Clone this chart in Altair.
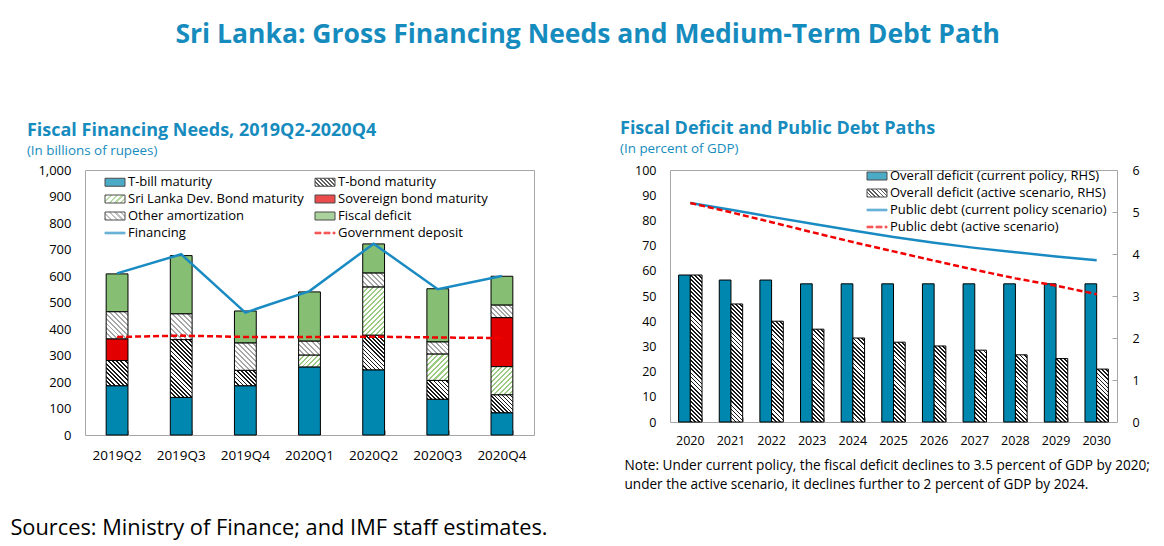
import math
import altair as alt
import pandas as pd

FONT = "Open Sans"
TITLE_BLUE = "#168CBE"
BAR_BLUE = "#0087AF"
GREEN = "#86BF73"
RED = "#E30000"
LINE_BLUE = "#1A8BC2"
DASH_RED = "#F20000"
FRAME = "#A6A6A6"

# ---------------- data: left panel (billions of rupees) ----------------
quarters = ["2019Q2", "2019Q3", "2019Q4", "2020Q1", "2020Q2", "2020Q3", "2020Q4"]
t_bill = [186, 142, 186, 257, 246, 135, 84]
t_bond = [95, 218, 58, 0, 131, 71, 68]
sldb = [0, 0, 0, 45, 182, 100, 106]
sovereign = [82, 0, 0, 0, 0, 0, 185]
other_amort = [102, 97, 103, 52, 52, 45, 47]
fiscal_deficit = [143, 220, 121, 186, 110, 201, 109]
financing = [610, 682, 462, 543, 722, 550, 600]
gov_deposit = [370, 375, 370, 370, 371, 368, 366]

# ---------------- data: right panel (percent of GDP) ----------------
years = [str(y) for y in range(2020, 2031)]
deficit_current = [3.5, 3.38, 3.38, 3.29, 3.29, 3.29, 3.29, 3.29, 3.29, 3.29, 3.29]
deficit_active = [3.5, 2.81, 2.4, 2.21, 2.0, 1.9, 1.81, 1.71, 1.6, 1.51, 1.26]
debt_current = [86.9, 84.2, 81.4, 78.7, 76.0, 73.4, 71.1, 69.1, 67.4, 65.7, 64.2]
debt_active = [86.9, 83.2, 79.3, 75.3, 71.4, 67.7, 64.0, 60.4, 57.0, 54.1, 50.7]

MAIN_TITLE = "Sri Lanka: Gross Financing Needs and Medium-Term Debt Path"
LEFT_TITLE = "Fiscal Financing Needs, 2019Q2-2020Q4"
LEFT_SUB = "(In billions of rupees)"
RIGHT_TITLE = "Fiscal Deficit and Public Debt Paths"
RIGHT_SUB = "(In percent of GDP)"
NOTE = ["Note: Under current policy, the fiscal deficit declines to 3.5 percent of GDP by 2020;",
        "under the active scenario, it declines further to 2 percent of GDP by 2024."]
SOURCES = "Sources: Ministry of Finance; and IMF staff estimates."

bar_series = ["T-bill maturity", "T-bond maturity", "Sri Lanka Dev. Bond maturity",
              "Sovereign bond maturity", "Other amortization", "Fiscal deficit"]
bar_values = [t_bill, t_bond, sldb, sovereign, other_amort, fiscal_deficit]
line_series = ["Financing", "Government deposit"]
right_series = ["Overall deficit (current policy, RHS)", "Overall deficit (active scenario, RHS)",
                "Public debt (current policy scenario)", "Public debt (active scenario)"]

# ---------------- layout sizes ----------------
LW, LH = 449, 265
RW, RH = 447, 252
L_PAD_IN = 0.66
R_PAD_IN = 0.424
L_BAR_W = LW / len(quarters) * (1 - L_PAD_IN)
R_BAR_W = RW / len(years) * (1 - R_PAD_IN) / 2


def hatch(w, h, line, bg, direction, period, frac):
    """Linear gradient with hard stops that imitates 45-degree hatching."""
    w = max(w, 0.5)
    h = max(h, 0.5)
    lam = (w + h) / (w * w + h * h)
    if direction == "back":
        x1, y1, x2, y2 = 0, 1, lam * w, 1 - lam * h
    else:
        x1, y1, x2, y2 = 0, 0, lam * w, lam * h
    n = max(1, round((w + h) / math.sqrt(2) / period))
    stops = []
    for k in range(n):
        a, b, c = k / n, (k + frac) / n, (k + 1) / n
        stops += [(a, line), (b, line), (b, bg), (c, bg)]
    return {"gradient": "linear", "x1": round(x1, 5), "y1": round(y1, 5),
            "x2": round(x2, 5), "y2": round(y2, 5),
            "stops": [{"offset": round(o, 5), "color": col} for o, col in stops]}


def grad_expr(g):
    stops = ",".join("{offset:%s,color:'%s'}" % (s["offset"], s["color"]) for s in g["stops"])
    return "{gradient:'linear',x1:%s,y1:%s,x2:%s,y2:%s,stops:[%s]}" % (
        g["x1"], g["y1"], g["x2"], g["y2"], stops)


PATTERNS = {
    "T-bond maturity": ("#1a1a1a", "#ffffff", "back", 2.9, 0.45),
    "Sri Lanka Dev. Bond maturity": ("#9CCB83", "#ffffff", "fwd", 3.6, 0.4),
    "Other amortization": ("#A8A8A8", "#ffffff", "back", 3.6, 0.4),
}
ACTIVE_PATTERN = ("#1a1a1a", "#ffffff", "back", 2.9, 0.45)
SOLID = {"T-bill maturity": BAR_BLUE, "Sovereign bond maturity": RED, "Fiscal deficit": GREEN}

# legend symbol paths (size 64 -> 4 px per unit; symbol centre sits 6.5 px from entry start)
RECT = "M-1.625,-1H3.375V1H-1.625Z"
LINE = "M-1.625,-0.2H3.375V0.2H-1.625Z"
DASH = ("M-1.625,-0.2H-0.125V0.2H-1.625Z M0.625,-0.2H2.125V0.2H0.625Z "
        "M2.875,-0.2H3.375V0.2H2.875Z")

label_style = dict(labelFont=FONT, labelFontSize=13, labelColor="black")

# ================= LEFT PANEL =================
rows = []
for i, q in enumerate(quarters):
    base = 0
    for name, vals in zip(bar_series, bar_values):
        v = vals[i]
        rows.append({"quarter": q, "series": name, "y0": base, "y1": base + v, "v": v})
        base += v
df_left = pd.DataFrame(rows)
df_lines = pd.DataFrame({"quarter": quarters, "financing": financing, "deposit": gov_deposit})

SC_X_L = alt.Scale(domain=quarters, paddingInner=L_PAD_IN, paddingOuter=L_PAD_IN / 2)
X_L_MAIN = alt.X("quarter:N", sort=quarters, scale=SC_X_L,
                 axis=alt.Axis(title=None, labelAngle=0, ticks=False, domain=False, grid=False,
                               labelPadding=13, labelFont=FONT, labelFontSize=13.5,
                               labelColor="black"))
X_L_TICK = alt.X("quarter:N", sort=quarters, scale=SC_X_L,
                 axis=alt.Axis(title=None, orient="top", offset=-LH, labels=False, domain=False,
                               grid=False, ticks=True, tickBand="extent", tickSize=5,
                               tickColor=FRAME, tickWidth=1))
X_L_NONE = alt.X("quarter:N", sort=quarters, scale=SC_X_L, axis=None)
AX_Y_L = alt.Axis(title=None, values=list(range(0, 1001, 100)), format=",d", ticks=False,
                  domain=False, grid=False, labelPadding=14, **label_style)
SC_Y_L = alt.Scale(domain=[0, 1000], nice=False)

base_left = alt.Chart(df_left)
left_layers = []
for name in bar_series:
    if name in SOLID:
        left_layers.append(
            base_left.transform_filter((alt.datum.series == name) & (alt.datum.v > 0))
            .mark_bar(fill=SOLID[name], stroke="black", strokeWidth=1)
            .encode(x=X_L_NONE, y=alt.Y("y0:Q", scale=SC_Y_L, axis=AX_Y_L), y2="y1:Q")
        )
for name, vals in zip(bar_series, bar_values):
    if name not in PATTERNS:
        continue
    line, bg, d, per, fr = PATTERNS[name]
    for i, q in enumerate(quarters):
        if vals[i] <= 0:
            continue
        g = hatch(L_BAR_W, vals[i] * LH / 1000, line, bg, d, per, fr)
        left_layers.append(
            base_left.transform_filter((alt.datum.series == name) & (alt.datum.quarter == q))
            .mark_bar(fill=g, stroke="black", strokeWidth=1)
            .encode(x=X_L_NONE, y=alt.Y("y0:Q", scale=SC_Y_L, axis=AX_Y_L), y2="y1:Q")
        )

fin_line = alt.Chart(df_lines).mark_line(color=LINE_BLUE, strokeWidth=2.5).encode(
    x=X_L_MAIN, y=alt.Y("financing:Q", scale=SC_Y_L, axis=AX_Y_L))
dep_line = alt.Chart(df_lines).mark_line(color=DASH_RED, strokeWidth=2.5, strokeDash=[6, 3]).encode(
    x=X_L_TICK, y=alt.Y("deposit:Q", scale=SC_Y_L, axis=AX_Y_L))

# legend entries, listed column by column (the legend fills columns first)
left_names = ["T-bill maturity", "Sri Lanka Dev. Bond maturity", "Other amortization", "Financing",
              "T-bond maturity", "Sovereign bond maturity", "Fiscal deficit", "Government deposit"]


def legend_fill(name):
    if name in PATTERNS:
        line, bg, d, per, fr = PATTERNS[name]
        return alt.ExprRef(expr=grad_expr(hatch(20, 8, line, bg, d, per, fr)))
    if name in SOLID:
        return SOLID[name]
    return LINE_BLUE if name == "Financing" else DASH_RED


left_fill = [legend_fill(n) for n in left_names]
left_stroke = ["black" if n in bar_series else (LINE_BLUE if n == "Financing" else DASH_RED)
               for n in left_names]
left_shape = [RECT if n in bar_series else (LINE if n == "Financing" else DASH) for n in left_names]

LEG_L = alt.Legend(title=None, orient="none", legendX=20, legendY=5.5, columns=2, columnPadding=9,
                   rowPadding=3, symbolSize=64, symbolStrokeWidth=1, symbolFillColor="white",
                   labelOffset=10, labelLimit=400, padding=0, **label_style)
leg_left = alt.Chart(pd.DataFrame({"series": left_names})).transform_filter(
    alt.datum.series == "__none__"
).mark_point(filled=True).encode(
    fill=alt.Fill("series:N", scale=alt.Scale(domain=left_names, range=left_fill), legend=LEG_L),
    stroke=alt.Stroke("series:N", scale=alt.Scale(domain=left_names, range=left_stroke), legend=LEG_L),
    shape=alt.Shape("series:N", scale=alt.Scale(domain=left_names, range=left_shape), legend=LEG_L),
)

left = alt.layer(*left_layers, dep_line, fin_line, leg_left).resolve_axis(x="independent").properties(
    width=LW, height=LH,
    title=alt.TitleParams(LEFT_TITLE, subtitle=LEFT_SUB, anchor="start", font=FONT, fontSize=18,
                          fontWeight="bold", color=TITLE_BLUE, subtitleFont=FONT, subtitleFontSize=13.4,
                          subtitleColor=TITLE_BLUE, subtitlePadding=4.5, offset=6.5, dx=-11),
)

# ================= RIGHT PANEL =================
df_def = pd.DataFrame({"year": years * 2,
                       "scen": ["current"] * len(years) + ["active"] * len(years),
                       "val": deficit_current + deficit_active})
df_debt = pd.DataFrame({"year": years, "cur": debt_current, "act": debt_active})

SC_X_R = alt.Scale(domain=years, paddingInner=R_PAD_IN, paddingOuter=R_PAD_IN / 2)
X_R_MAIN = alt.X("year:N", sort=years, scale=SC_X_R,
                 axis=alt.Axis(title=NOTE, titleAnchor="start", titleAlign="left", titleBaseline="top",
                               titleX=-46, titleY=36, titleFont=FONT, titleFontSize=13.6,
                               titleFontWeight="normal", titleColor="black", titleLineHeight=19,
                               labelAngle=0, ticks=False, domain=False, grid=False, labelPadding=12,
                               labelFont=FONT, labelFontSize=12.5, labelColor="black"))
X_R_TICK = alt.X("year:N", sort=years, scale=SC_X_R,
                 axis=alt.Axis(title=None, orient="top", offset=-RH, labels=False, domain=False,
                               grid=False, ticks=True, tickBand="extent", tickSize=5,
                               tickColor=FRAME, tickWidth=1))
X_R_NONE = alt.X("year:N", sort=years, scale=SC_X_R, axis=None)
XO = alt.XOffset("scen:N", scale=alt.Scale(domain=["current", "active"], paddingInner=0, paddingOuter=0))
SC_Y_RB = alt.Scale(domain=[0, 6], nice=False)
AX_Y_RB = alt.Axis(orient="right", title=None, values=list(range(0, 7)), ticks=False, domain=False,
                   grid=False, labelPadding=15, labelFont=FONT, labelFontSize=12.5, labelColor="black")
AX_Y_RB_TICK = alt.Axis(orient="left", offset=-RW, title=None, values=[1, 2, 3, 4, 5], labels=False,
                        domain=False, grid=False, ticks=True, tickSize=5, tickColor=FRAME, tickWidth=1)
SC_Y_RL = alt.Scale(domain=[0, 100], nice=False)
AX_Y_RL = alt.Axis(orient="left", title=None, values=list(range(0, 101, 10)), ticks=False,
                   domain=False, grid=False, labelPadding=14, labelFont=FONT, labelFontSize=12.5,
                   labelColor="black")

base_def = alt.Chart(df_def)
right_layers = [
    base_def.transform_filter(alt.datum.scen == "current")
    .mark_bar(fill=BAR_BLUE, stroke="black", strokeWidth=1)
    .encode(x=X_R_TICK, xOffset=XO, y=alt.Y("val:Q", scale=SC_Y_RB, axis=AX_Y_RB))
]
line, bg, d, per, fr = ACTIVE_PATTERN
for i, yv in enumerate(years):
    g = hatch(R_BAR_W, deficit_active[i] * RH / 6, line, bg, d, per, fr)
    right_layers.append(
        base_def.transform_filter((alt.datum.scen == "active") & (alt.datum.year == yv))
        .mark_bar(fill=g, stroke="black", strokeWidth=1)
        .encode(x=X_R_NONE, xOffset=XO,
                y=alt.Y("val:Q", scale=SC_Y_RB, axis=AX_Y_RB_TICK if i == 0 else None))
    )

right_layers.append(
    alt.Chart(df_debt).mark_line(color=LINE_BLUE, strokeWidth=2.5).encode(
        x=X_R_MAIN, y=alt.Y("cur:Q", scale=SC_Y_RL, axis=AX_Y_RL)))
right_layers.append(
    alt.Chart(df_debt).mark_line(color=DASH_RED, strokeWidth=2.5, strokeDash=[6, 3]).encode(
        x=X_R_NONE, y=alt.Y("act:Q", scale=SC_Y_RL, axis=None)))

right_fill = [BAR_BLUE, alt.ExprRef(expr=grad_expr(hatch(20, 8, *ACTIVE_PATTERN))), LINE_BLUE, DASH_RED]
right_stroke = ["black", "black", LINE_BLUE, DASH_RED]
right_shape = [RECT, RECT, LINE, DASH]
LEG_R = alt.Legend(title=None, orient="none", legendX=197, legendY=-0.5, columns=1,
                   rowPadding=3, symbolSize=64, symbolStrokeWidth=1, symbolFillColor="white",
                   labelOffset=10, labelLimit=400, padding=0, **label_style)
right_layers.append(
    alt.Chart(pd.DataFrame({"entry": right_series})).transform_filter(
        alt.datum.entry == "__none__"
    ).mark_point(filled=True).encode(
        fill=alt.Fill("entry:N", scale=alt.Scale(domain=right_series, range=right_fill), legend=LEG_R),
        stroke=alt.Stroke("entry:N", scale=alt.Scale(domain=right_series, range=right_stroke),
                          legend=LEG_R),
        shape=alt.Shape("entry:N", scale=alt.Scale(domain=right_series, range=right_shape), legend=LEG_R),
    )
)

right = alt.layer(*right_layers).resolve_scale(y="independent").resolve_axis(
    x="independent", y="independent"
).properties(
    width=RW, height=RH,
    title=alt.TitleParams(RIGHT_TITLE, subtitle=RIGHT_SUB, anchor="start", font=FONT, fontSize=18,
                          fontWeight="bold", color=TITLE_BLUE, subtitleFont=FONT, subtitleFontSize=13.4,
                          subtitleColor=TITLE_BLUE, subtitlePadding=4.5, offset=8.5, dx=-4),
)

row = alt.hconcat(left, right, spacing=84).resolve_scale(
    fill="independent", stroke="independent", shape="independent"
).properties(
    title=alt.TitleParams(SOURCES, orient="bottom", anchor="start", font=FONT, fontSize=21.8,
                          fontWeight="normal", color="black", offset=27, dx=-16)
)

chart = alt.vconcat(row).properties(
    title=alt.TitleParams(MAIN_TITLE, anchor="middle", font=FONT, fontSize=26.5, fontWeight="bold",
                          color=TITLE_BLUE, offset=71, dx=7.5)
).configure(
    background="white", padding={"left": 2, "top": 13, "right": 5, "bottom": 5}, font=FONT
).configure_view(stroke=FRAME, strokeWidth=1)

chart.save("out.html", embed_options={"renderer": "svg", "actions": False})
